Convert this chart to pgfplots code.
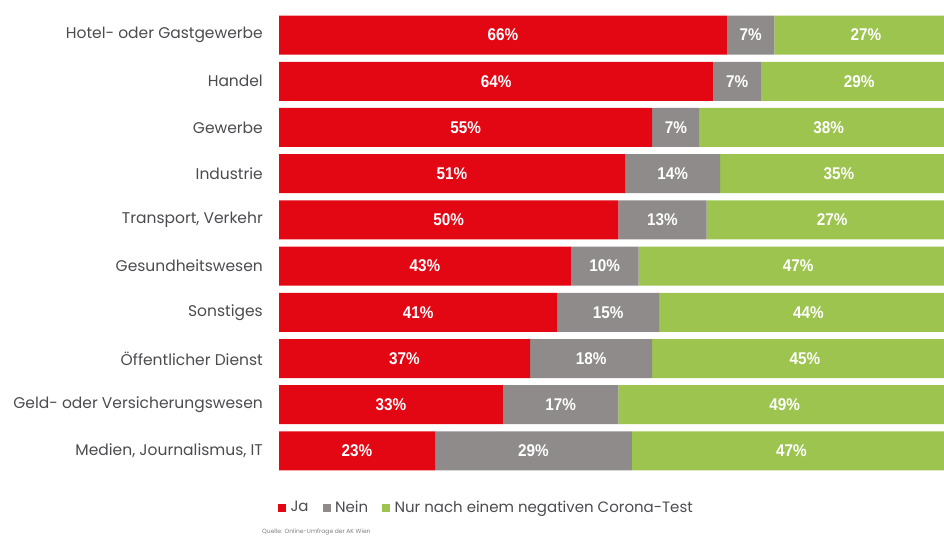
\documentclass[border=0pt]{standalone}
\usepackage{fontspec}
\setmainfont{Poppins}
\newfontfamily\barfont{Liberation Sans}[FakeStretch=0.9]
\usepackage{pgfplots}
\pgfplotsset{compat=1.18}
\usepackage{pgfplotstable}
\definecolor{jared}{RGB}{227,6,19}
\definecolor{neingrey}{RGB}{142,139,138}
\definecolor{nurgreen}{RGB}{156,196,78}
\definecolor{txtgrey}{RGB}{75,75,80}

% pos = row (0 = top), nurl = printed label of the green segment
\pgfplotstableread{
pos ja nein nur nurl
0 66 7 27 27
1 64 7 29 29
2 55 7 38 38
3 51 14 35 35
4 50 13 37 27
5 43 10 47 47
6 41 15 44 44
7 37 18 45 45
8 33 17 49 49
9 23 29 47 47
}\sektoren

\begin{document}
\begin{tikzpicture}
\path[use as bounding box] (0,0) rectangle (944pt,538pt);
\begin{axis}[
  at={(279pt,64pt)}, anchor=south west,
  scale only axis, width=678.6pt, height=462pt,
  xbar stacked, bar width=39pt,
  xmin=0, xmax=100, ymin=-0.5, ymax=9.5, y dir=reverse,
  axis line style={draw=none}, tick style={draw=none},
  xtick=\empty, ytick={0,...,9},
  yticklabels={Hotel- oder Gastgewerbe, Handel, Gewerbe, Industrie,
    {Transport, Verkehr}, Gesundheitswesen, Sonstiges,
    Öffentlicher Dienst, Geld- oder Versicherungswesen,
    {Medien, Journalismus, IT}},
  yticklabel style={font=\fontsize{15.5}{18}\selectfont, text=txtgrey,
    inner sep=0pt, xshift=-16pt},
  point meta=explicit,
  /pgf/number format/assume math mode=true,
  nodes near coords={\pgfmathprintnumber{\pgfplotspointmeta}\%},
  every node near coord/.append style={anchor=center, text=white,
    font=\barfont\bfseries\fontsize{17}{19}\selectfont},
  legend style={at={(-0.006,-0.072)}, anchor=west, draw=none, fill=none,
    legend columns=3, font=\fontsize{15}{18}\selectfont, text=txtgrey,
    /tikz/every even column/.append style={column sep=12pt}},
  legend cell align=left,
]
\addlegendimage{legend image code/.code={\path (0pt,0pt) (10pt,0pt);
  \fill[jared] (0pt,-3.5pt) rectangle (7pt,3.5pt);}}
\addlegendentry{Ja}
\addlegendimage{legend image code/.code={\path (0pt,0pt) (10pt,0pt);
  \fill[neingrey] (0pt,-3.5pt) rectangle (7pt,3.5pt);}}
\addlegendentry{Nein}
\addlegendimage{legend image code/.code={\path (0pt,0pt) (10pt,0pt);
  \fill[nurgreen] (0pt,-3.5pt) rectangle (7pt,3.5pt);}}
\addlegendentry{Nur nach einem negativen Corona-Test}

\addplot[fill=jared, draw=none] table[x=ja, y=pos, meta=ja] {\sektoren};
\addplot[fill=neingrey, draw=none] table[x=nein, y=pos, meta=nein] {\sektoren};
\addplot[fill=nurgreen, draw=none] table[x=nur, y=pos, meta=nurl] {\sektoren};
\end{axis}
\node[anchor=west, inner sep=0pt, font=\fontsize{6}{8}\selectfont, text=gray]
  at (262pt,6pt) {Quelle: Online-Umfrage der AK Wien};
\end{tikzpicture}
\end{document}
